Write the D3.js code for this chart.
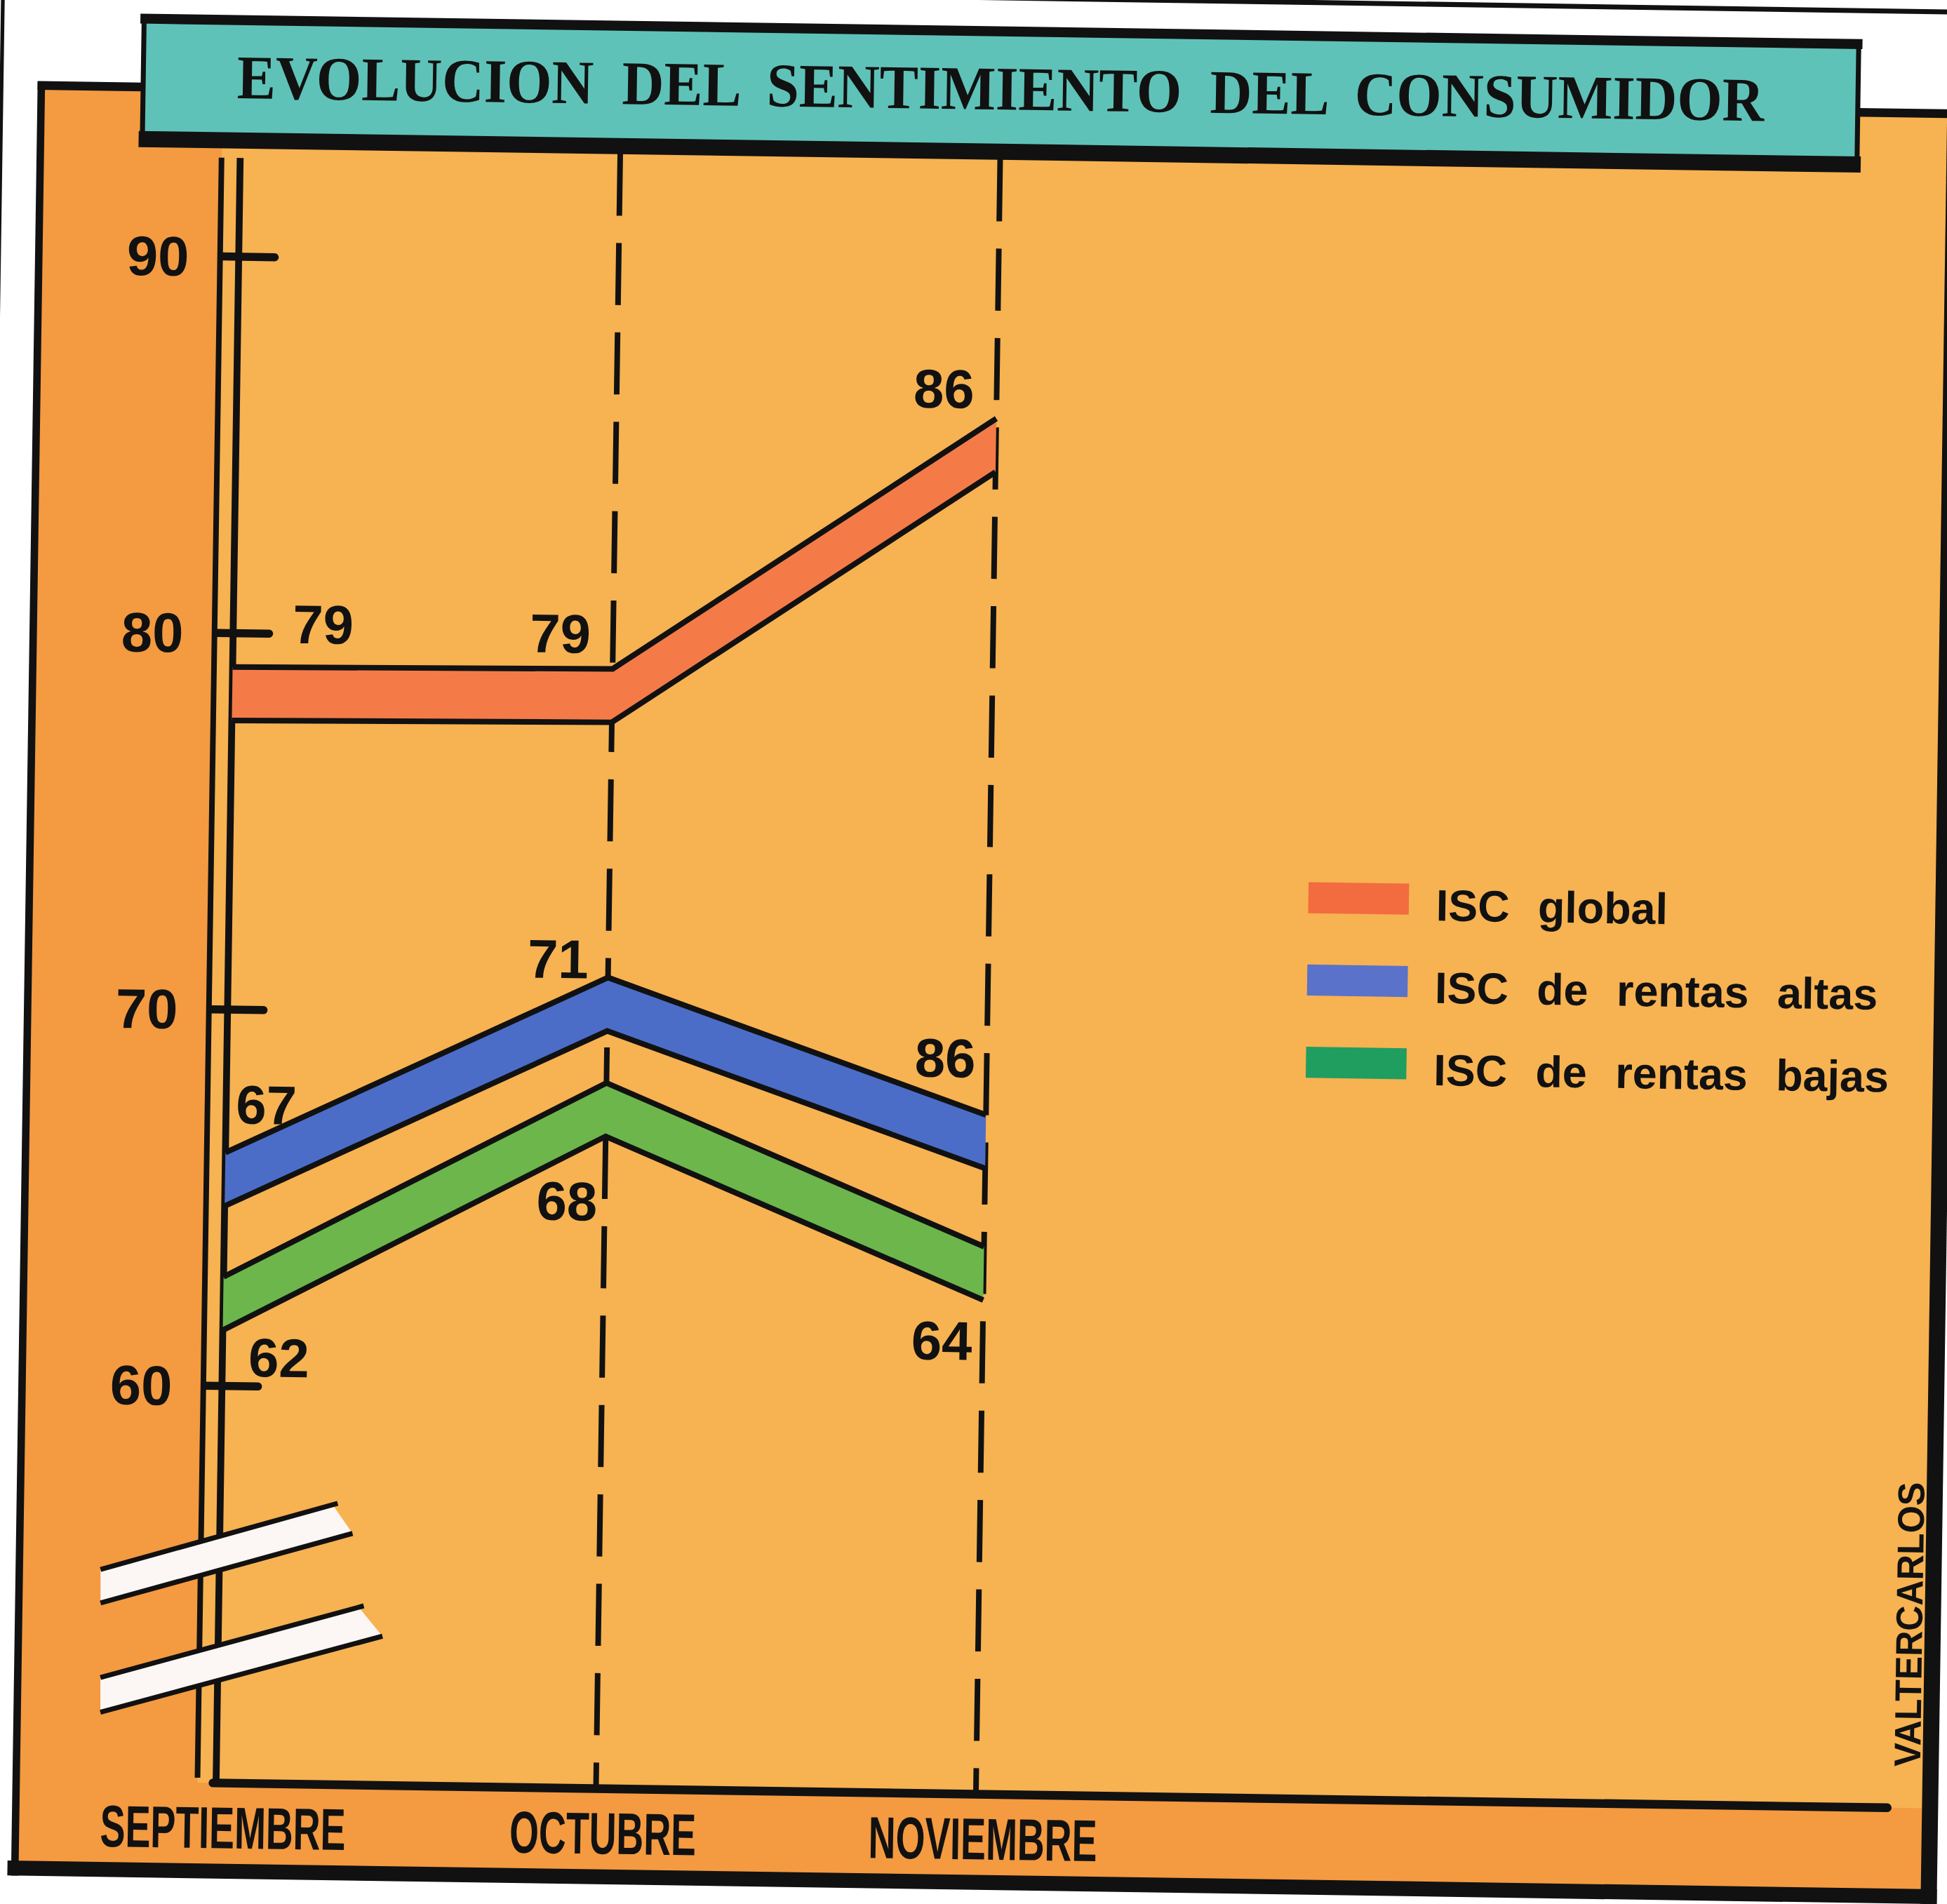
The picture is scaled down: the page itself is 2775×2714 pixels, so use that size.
<!DOCTYPE html>
<html>
<head>
<meta charset="utf-8">
<script src="https://cdn.jsdelivr.net/npm/d3@7"></script>
<style>
  html, body { margin: 0; padding: 0; background: #fff; }
  svg { display: block; }
</style>
</head>
<body>
<svg id="chart" width="2775" height="2714" viewBox="0 0 1568 1533.5"></svg>
<script>

// ---- data ----
const months = ["SEPTIEMBRE", "OCTUBRE", "NOVIEMBRE"];
const yTicks = [60, 70, 80, 90];
// top edge of each drawn band
const iscGlobal = [79.1, 79.2, 86.0];
const iscAltas  = [66.2, 71.0, 67.5];
const iscBajas  = [62.9, 68.2, 64.0];
// numbers printed on the chart (the 86 on the blue band is as printed)
const labelsGlobal = ["79", "79", "86"];
const labelsAltas  = ["67", "71", "86"];
const labelsBajas  = ["62", "68", "64"];
const seriesNames = ["ISC global", "ISC de rentas altas", "ISC de rentas bajas"];
const titleText = "EVOLUCION DEL SENTIMIENTO DEL CONSUMIDOR";
const creditText = "VALTERCARLOS";

// ---- layout / style ----
const W = 1568, H = 1533.5;
const bandThk = 1.42;          // band thickness, in index points
const light = "#F7B251", dark = "#F49A40", teal = "#5FC2B8", ink = "#111";
const font = "'Liberation Sans', Arial, sans-serif";

const series = [
  {name: seriesNames[0], values: iscGlobal, labels: labelsGlobal, fill: "#F47B48", key: "#F26C3F"},
  {name: seriesNames[1], values: iscAltas,  labels: labelsAltas,  fill: "#4C6DC7", key: "#5A72C9"},
  {name: seriesNames[2], values: iscBajas,  labels: labelsBajas,  fill: "#6DB64B", key: "#1F9E60"}
];

// where each printed number sits, relative to its band point
const labelPos = [
  [{dx: 48, dy: -20, a: "start"}, {dx: -18, dy: -12.5, a: "end"}, {dx: -18, dy: -8, a: "end"}],
  [{dx: 8, dy: -23.5, a: "start"}, {dx: -16, dy: 1, a: "end"}, {dx: -9, dy: -30, a: "end"}],
  [{dx: 21, dy: 80, a: "start"}, {dx: -6, dy: 111, a: "end"}, {dx: -8.5, dy: 91.5, a: "end"}]
];

const x = d3.scalePoint().domain(months).range([184, 796]);
const y = d3.scaleLinear().domain([60, 90]).range([1125.2, 215.6]);

const svg = d3.select("#chart");
svg.append("rect").attr("width", W).attr("height", H).attr("fill", "#fff");

// the scan is turned a little clockwise
const g = svg.append("g").attr("transform", "rotate(0.85,784,767)");

const x0 = x(months[0]);
const axisBottom = 1445;
const plotTop = 128;

// page frame lines
g.append("line").attr("x1", -9).attr("x2", -9).attr("y1", -60).attr("y2", 1620)
  .attr("stroke", ink).attr("stroke-width", 3);
g.append("line").attr("x1", 700).attr("x2", 1620).attr("y1", -2).attr("y2", -2)
  .attr("stroke", ink).attr("stroke-width", 4);

// panel
g.append("rect").attr("x", 22).attr("y", 80).attr("width", 1543).attr("height", 1436).attr("fill", dark);
g.append("rect").attr("x", x0 - 15).attr("y", 80).attr("width", 1558 - (x0 - 15))
  .attr("height", axisBottom - 80).attr("fill", light);
const border = [
  [20, 80, 1571, 80, 7], [23, 77, 23, 1522, 6], [1564.5, 77, 1564.5, 1522, 13], [17, 1516, 1571, 1516, 12]
];
g.selectAll(".border").data(border).enter().append("line")
  .attr("x1", d => d[0]).attr("y1", d => d[1]).attr("x2", d => d[2]).attr("y2", d => d[3])
  .attr("stroke", ink).attr("stroke-width", d => d[4]);

// month guides
g.selectAll(".guide").data(months.slice(1)).enter().append("line")
  .attr("x1", d => x(d)).attr("x2", d => x(d))
  .attr("y1", plotTop).attr("y2", axisBottom)
  .attr("stroke", ink).attr("stroke-width", 4.5)
  .attr("stroke-dasharray", "50,22");

// y axis: double rule, ticks, labels
g.append("line").attr("x1", x0 - 15).attr("x2", x0 - 15).attr("y1", 136).attr("y2", 1441)
  .attr("stroke", ink).attr("stroke-width", 4.5);
g.append("line").attr("x1", x0).attr("x2", x0).attr("y1", 136).attr("y2", axisBottom)
  .attr("stroke", ink).attr("stroke-width", 5.5);
g.selectAll(".tick").data(yTicks).enter().append("line")
  .attr("x1", x0 - 13).attr("x2", x0 + 29)
  .attr("y1", d => y(d)).attr("y2", d => y(d))
  .attr("stroke", ink).attr("stroke-width", 6.5).attr("stroke-linecap", "round");
g.selectAll(".tickLabel").data(yTicks).enter().append("text")
  .attr("x", x0 - 40).attr("y", d => y(d) + 16)
  .attr("text-anchor", "end")
  .attr("font-family", font).attr("font-weight", "bold").attr("font-size", 45)
  .attr("fill", ink).text(d => d);

// bands
const pts = s => s.values.map((v, i) => ({m: months[i], v: v}));
const area = d3.area().x(d => x(d.m)).y0(d => y(d.v - bandThk)).y1(d => y(d.v));
const topLine = d3.line().x(d => x(d.m)).y(d => y(d.v));
const botLine = d3.line().x(d => x(d.m)).y(d => y(d.v - bandThk));

series.forEach(function(s){
  const p = pts(s);
  g.append("path").datum(p).attr("d", area).attr("fill", s.fill);
  g.append("path").datum(p).attr("d", topLine).attr("fill", "none")
    .attr("stroke", ink).attr("stroke-width", 4.5);
  g.append("path").datum(p).attr("d", botLine).attr("fill", "none")
    .attr("stroke", ink).attr("stroke-width", 4.5);
});

// printed values
series.forEach(function(s, si){
  g.selectAll(".val" + si).data(pts(s)).enter().append("text")
    .attr("x", (d, i) => x(d.m) + labelPos[si][i].dx)
    .attr("y", (d, i) => y(d.v) + labelPos[si][i].dy)
    .attr("text-anchor", (d, i) => labelPos[si][i].a)
    .attr("font-family", font).attr("font-weight", "bold").attr("font-size", 44)
    .attr("fill", ink)
    .text((d, i) => s.labels[i]);
});

// axis break marks
const breaks = [
  [[88.4, 1274.4], [274.6, 1219.6], [290.9, 1242.4], [88.8, 1301.4]],
  [[89.6, 1361.4], [296.8, 1301.8], [316.2, 1324.8], [90, 1389.4]]
];
breaks.forEach(function(b){
  g.append("polygon").attr("points", b.map(p => p.join(",")).join(" ")).attr("fill", "#FCF6F4");
  g.append("line").attr("x1", b[0][0]).attr("y1", b[0][1]).attr("x2", b[1][0] + 4).attr("y2", b[1][1] - 1.2)
    .attr("stroke", ink).attr("stroke-width", 4);
  g.append("line").attr("x1", b[3][0]).attr("y1", b[3][1]).attr("x2", b[2][0]).attr("y2", b[2][1])
    .attr("stroke", ink).attr("stroke-width", 4);
});

// x axis
g.append("line").attr("x1", x0 - 2.5).attr("x2", 1530).attr("y1", axisBottom).attr("y2", axisBottom)
  .attr("stroke", ink).attr("stroke-width", 7).attr("stroke-linecap", "round");
g.selectAll(".month").data(months).enter().append("text")
  .attr("transform", d => "translate(" + (x(d) + 6) + ",1497.5) scale(0.64,1)")
  .attr("text-anchor", "middle")
  .attr("font-family", font).attr("font-weight", "bold").attr("font-size", 47.5)
  .attr("fill", ink).text(d => d);

// legend
const legX = 1053, legY = 706.5, legStep = 66.3;
const leg = g.selectAll(".leg").data(series).enter().append("g")
  .attr("transform", (d, i) => "translate(" + legX + "," + (legY + i * legStep) + ")");
leg.append("rect").attr("width", 81).attr("height", 25).attr("fill", d => d.key);
leg.append("text").attr("x", 103).attr("y", 29.5)
  .attr("font-family", font).attr("font-weight", "bold").attr("font-size", 35.5)
  .attr("word-spacing", 13).attr("fill", ink).text(d => d.name);

// credit
g.append("text")
  .attr("transform", "translate(1556,1297) rotate(-90)")
  .attr("text-anchor", "middle")
  .attr("font-family", font).attr("font-weight", "bold").attr("font-size", 30)
  .attr("textLength", 229).attr("lengthAdjust", "spacingAndGlyphs")
  .attr("fill", ink).text(creditText);

// title box
g.append("rect").attr("x", 104).attr("y", 24).attr("width", 1383).attr("height", 98).attr("fill", teal);
g.append("line").attr("x1", 102).attr("x2", 1489).attr("y1", 25).attr("y2", 25).attr("stroke", ink).attr("stroke-width", 8);
g.append("line").attr("x1", 102).attr("x2", 1489).attr("y1", 122).attr("y2", 122).attr("stroke", ink).attr("stroke-width", 13);
g.append("line").attr("x1", 105).attr("x2", 105).attr("y1", 22).attr("y2", 126).attr("stroke", ink).attr("stroke-width", 4);
g.append("line").attr("x1", 1486).attr("x2", 1486).attr("y1", 22).attr("y2", 126).attr("stroke", ink).attr("stroke-width", 4);
g.append("text").attr("x", 795.5).attr("y", 88)
  .attr("text-anchor", "middle")
  .attr("font-family", "'Liberation Serif', 'Times New Roman', serif")
  .attr("font-weight", "bold").attr("font-size", 50)
  .attr("word-spacing", 12)
  .attr("textLength", 1230).attr("lengthAdjust", "spacingAndGlyphs")
  .attr("fill", ink).text(titleText);

</script>
</body>
</html>
